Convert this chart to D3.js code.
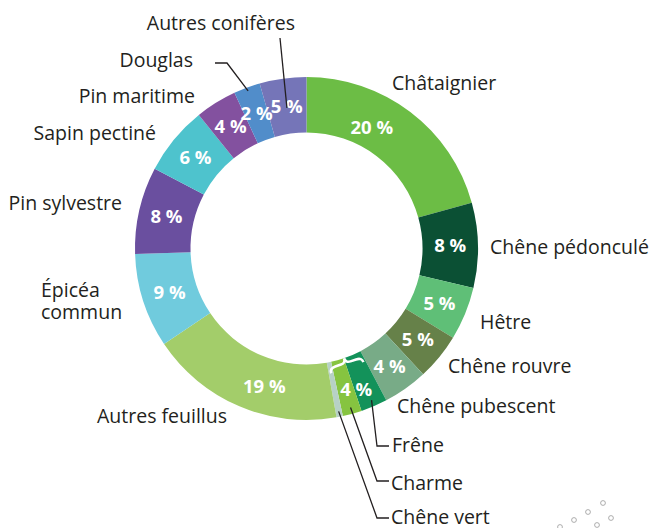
<!DOCTYPE html>
<html>
<head>
<meta charset="utf-8">
<script src="https://cdn.jsdelivr.net/npm/d3@7"></script>
<style>
  body { margin: 0; background: #fff; }
  svg text { font-family: "Open Sans", "Noto Sans", sans-serif; }
</style>
</head>
<body>
<svg id="chart" width="655" height="528"></svg>
<script>
// essences, dans l'ordre du camembert (sens horaire depuis midi)
var categories = ["Châtaignier", "Chêne pédonculé", "Hêtre", "Chêne rouvre", "Chêne pubescent",
  "Frêne", "Charme", "Chêne vert", "Autres feuillus", "Épicéa commun", "Pin sylvestre",
  "Sapin pectiné", "Pin maritime", "Douglas", "Autres conifères"];
var values = [20.7, 8.0, 5.0, 4.4, 4.2, 2.5, 1.8, 0.6, 18.4, 8.9, 8.2, 6.5, 3.9, 2.5, 4.4];
var pctLabels = ["20 %", "8 %", "5 %", "5 %", "4 %", "", "", "", "19 %", "9 %", "8 %", "6 %", "4 %", "2 %", "5 %"];
var colors = ["#6cbd45", "#0b5034", "#5fbf77", "#668149", "#78ab87", "#13925a", "#86c440", "#b7d1c6",
  "#a3cd6a", "#70cbdd", "#6a4f9f", "#4ec3cd", "#83519f", "#518dca", "#7575b8"];
// Frêne + Charme + Chêne vert regroupés sous une accolade
var groupIdx = [5, 6, 7], groupLabel = "4 %";

// mise en page des étiquettes : [x, ligne de base, ancrage]
var labelPos = [
  [392, 90, "start"], [490, 254, "start"], [480, 329, "start"], [448, 373, "start"],
  [397, 413, "start"], [392, 452, "start"], [391, 490, "start"], [391, 524, "start"],
  [227, 423, "end"], [41, 297, "start"], [122, 210, "end"], [156, 140, "end"],
  [195, 103, "end"], [193, 67, "end"], [295, 30, "end"]
];
// traits de rappel : index -> [rayon de départ, coude, fin]
var leaders = {
  5: [165, [377, 446], [389, 446]],
  6: [165, [377, 481], [389, 481]],
  7: [166, [377, 518], [389, 518]],
  13: [168, [227, 63], [215, 63]],
  14: [142, [280, 38], null]
};
// petits décalages d'angle (degrés) pour quelques pourcentages
var pctShift = {0: [-9, 138], 8: [-6, 144]};

var cx = 306.5, cy = 248.5, R = 171.5, r0 = 116;
var svg = d3.select("#chart");
var g = svg.append("g").attr("transform", "translate(" + cx + "," + cy + ")");

var pie = d3.pie().sort(null).value(function(d) { return d; });
var arcs = pie(values);
var arc = d3.arc().innerRadius(r0).outerRadius(R);

g.selectAll("path.slice")
  .data(arcs)
.enter().append("path")
  .attr("class", "slice")
  .attr("d", arc)
  .attr("fill", function(d, i) { return colors[i]; });

function polar(a, r) { return [Math.sin(a) * r, -Math.cos(a) * r]; }
var mid = function(d) { return (d.startAngle + d.endAngle) / 2; };

// pourcentages
g.selectAll("text.pct")
  .data(arcs)
.enter().append("text")
  .attr("class", "pct")
  .attr("transform", function(d, i) {
    var a = mid(d), r = (R + r0) / 2;
    if (pctShift[i]) { a += pctShift[i][0] * Math.PI / 180; r = pctShift[i][1]; }
    return "translate(" + polar(a, r) + ")";
  })
  .attr("text-anchor", "middle")
  .attr("dy", "0.36em")
  .attr("fill", "#fff")
  .attr("font-weight", "bold")
  .attr("font-size", 18.5)
  .text(function(d, i) { return pctLabels[i]; });

// étiquette du groupe + accolade
var gStart = arcs[groupIdx[0]].startAngle, gEnd = arcs[groupIdx[groupIdx.length - 1]].endAngle;
var gMid = (gStart + gEnd) / 2;
g.append("text")
  .attr("transform", "translate(" + polar(gMid - 0.01, 149) + ")")
  .attr("text-anchor", "middle")
  .attr("dy", "0.36em")
  .attr("fill", "#fff")
  .attr("font-weight", "bold")
  .attr("font-size", 18.5)
  .text(groupLabel);

g.append("path")
  .attr("transform", "translate(" + polar(gMid, 121) + ") rotate(" + (gMid * 180 / Math.PI) + ")")
  .attr("d", "M-17,-5 Q-17,0 -11,0 L-5,0 Q0,0 0,5 Q0,0 5,0 L11,0 Q17,0 17,-5")
  .attr("fill", "none")
  .attr("stroke", "#fff")
  .attr("stroke-width", 2.6);

// traits de rappel
Object.keys(leaders).forEach(function(k) {
  var L = leaders[k], d = arcs[k];
  var p0 = polar(mid(d), L[0]);
  var pts = [[p0[0] + cx, p0[1] + cy], L[1]];
  if (L[2]) pts.push(L[2]);
  svg.append("path")
    .attr("d", d3.line()(pts))
    .attr("fill", "none")
    .attr("stroke", "#231f20")
    .attr("stroke-width", 1.3);
});

// noms des essences
categories.forEach(function(c, i) {
  var p = labelPos[i];
  var t = svg.append("text")
    .attr("x", p[0]).attr("y", p[1])
    .attr("text-anchor", p[2])
    .attr("fill", "#231f20")
    .attr("font-size", 19.5);
  if (c === "Épicéa commun") {
    t.append("tspan").attr("x", p[0]).text("Épicéa");
    t.append("tspan").attr("x", p[0]).attr("dy", 22).text("commun");
  } else {
    t.text(c);
  }
});

// petits cercles décoratifs en bas à droite
var dots = [[603, 503], [588, 512], [611, 518], [574, 520], [597, 525], [560, 527]];
svg.selectAll("circle.deco")
  .data(dots)
.enter().append("circle")
  .attr("class", "deco")
  .attr("cx", function(d) { return d[0]; })
  .attr("cy", function(d) { return d[1]; })
  .attr("r", 2.4)
  .attr("fill", "none")
  .attr("stroke", "#999")
  .attr("stroke-width", 0.8);
</script>
</body>
</html>
